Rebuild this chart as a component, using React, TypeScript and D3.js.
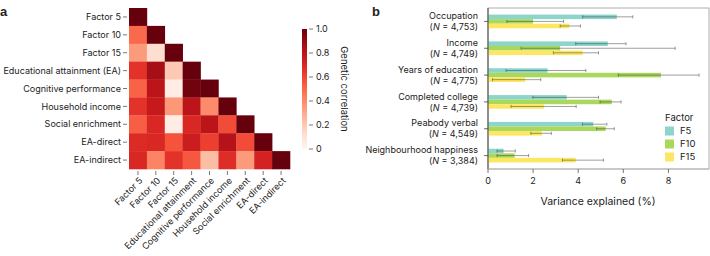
import React from "react";
import * as d3 from "d3";

const traits = [
  "Factor 5",
  "Factor 10",
  "Factor 15",
  "Educational attainment (EA)",
  "Cognitive performance",
  "Household income",
  "Social enrichment",
  "EA-direct",
  "EA-indirect",
];
const xTraits = [
  "Factor 5",
  "Factor 10",
  "Factor 15",
  "Educational attainment",
  "Cognitive performance",
  "Household income",
  "Social enrichment",
  "EA-direct",
  "EA-indirect",
];
// lower triangle rows (including diagonal)
const corrRows: number[][] = [
  [1],
  [0.5, 1],
  [0.35, 0.12, 1],
  [0.66, 0.86, 0.2, 1],
  [0.52, 0.8, 0.05, 0.98, 1],
  [0.66, 0.77, 0.36, 0.8, 0.4, 1],
  [0.53, 0.7, 0.05, 0.7, 0.8, 0.58, 1],
  [0.69, 0.7, 0.56, 0.75, 0.62, 0.82, 0.58, 1],
  [0.7, 0.42, 0.66, 0.55, 0.24, 0.68, 0.35, 0.72, 1],
];
const colorTicks = [0, 0.2, 0.4, 0.6, 0.8, 1.0];

const outcomes = [
  "Occupation",
  "Income",
  "Years of education",
  "Completed college",
  "Peabody verbal",
  "Neighbourhood happiness",
];
const sampleN = ["4,753", "4,749", "4,775", "4,739", "4,549", "3,384"];
const factors = ["F5", "F10", "F15"];
const f5Values = [5.71, 5.31, 2.64, 3.49, 4.67, 0.69];
const f5Lo = [4.2, 3.89, 0.8, 1.99, 4.19, 0.4];
const f5Hi = [6.42, 6.12, 4.34, 4.9, 5.27, 1.21];
const f10Values = [2.0, 3.2, 7.67, 5.49, 5.22, 1.18];
const f10Lo = [0.84, 1.47, 5.78, 4.97, 4.82, 0.4];
const f10Hi = [3.35, 8.3, 9.36, 5.9, 5.6, 1.8];
const f15Values = [3.61, 4.2, 1.65, 2.49, 2.39, 3.89];
const f15Lo = [3.2, 2.9, 0.2, 1.02, 1.9, 3.3];
const f15Hi = [4.1, 4.9, 2.34, 3.91, 2.81, 5.12];
const xTicks = [0, 2, 4, 6, 8];

const factorColors = ["#8cd5cb", "#a9d85c", "#fde762"];
const FONT = "Inter, 'Open Sans', sans-serif";

function Heatmap() {
  const x0 = 129,
    y0 = 8,
    size = 161;
  const band = d3.scaleBand<number>().domain(d3.range(traits.length)).range([0, size]);
  const color = (v: number) => d3.interpolateReds(v);
  const cs = d3.scaleLinear().domain([0, 1]).range([149, 29]);
  const gradStops = d3.range(0, 1.001, 0.05);
  return (
    <g fontFamily={FONT} fill="#222">
      <text x={0} y={16} fontSize={13} fontWeight={700} fontFamily="Arial, sans-serif">a</text>
      <g transform={`translate(${x0},${y0})`}>
        {corrRows.map((row, i) =>
          row.map((v, j) => (
            <rect
              key={`${i}-${j}`}
              x={band(j)!}
              y={band(i)!}
              width={band.bandwidth() + 0.3}
              height={band.bandwidth() + 0.3}
              fill={color(v)}
            />
          ))
        )}
        {traits.map((t, i) => (
          <g key={t} transform={`translate(0,${band(i)! + band.bandwidth() / 2})`}>
            <line x1={-6} x2={-2} stroke="#555" strokeWidth={0.8} />
            <text x={-8} dy="0.35em" textAnchor="end" fontSize={9}>
              {t}
            </text>
          </g>
        ))}
        {xTraits.map((t, j) => (
          <g key={t} transform={`translate(${band(j)! + band.bandwidth() / 2},${size})`}>
            <line y1={2} y2={6} stroke="#555" strokeWidth={0.8} />
            <text
              transform="translate(3,10) rotate(-45)"
              textAnchor="end"
              dy="0.35em"
              fontSize={9}
            >
              {t}
            </text>
          </g>
        ))}
      </g>
      <defs>
        <linearGradient id="cbar" x1="0" y1="1" x2="0" y2="0">
          {gradStops.map((s) => (
            <stop key={s} offset={s} stopColor={color(s)} />
          ))}
        </linearGradient>
      </defs>
      <rect x={302} y={29} width={5} height={120} fill="url(#cbar)" />
      {colorTicks.map((t) => (
        <g key={t} transform={`translate(307,${cs(t)})`}>
          <line x1={2} x2={6} stroke="#555" strokeWidth={0.8} />
          <text x={9} dy="0.35em" fontSize={9}>
            {t === 0 ? "0" : t.toFixed(1)}
          </text>
        </g>
      ))}
      <text transform="translate(341,89) rotate(90)" textAnchor="middle" fontSize={9.5}>
        Genetic correlation
      </text>
    </g>
  );
}

function BarChart() {
  const left = 488,
    right = 709,
    top = 8,
    bottom = 169;
  const x = d3.scaleLinear().domain([0, 9.8]).range([left, right]);
  const y = d3.scaleBand<string>().domain(outcomes).range([top, bottom]).paddingInner(0.49).paddingOuter(0.245);
  const sub = d3.scaleBand<string>().domain(factors).range([0, y.bandwidth()]);
  const vals = [f5Values, f10Values, f15Values];
  const los = [f5Lo, f10Lo, f15Lo];
  const his = [f5Hi, f10Hi, f15Hi];
  return (
    <g fontFamily={FONT} fill="#222">
      <text x={372} y={16} fontSize={13} fontWeight={700} fontFamily="Arial, sans-serif">b</text>
      <rect x={left} y={top} width={right - left} height={bottom - top} fill="none" stroke="#999" strokeWidth={0.8} />
      {outcomes.map((o, i) =>
        factors.map((f, k) => {
          const yy = y(o)! + sub(f)!;
          const h = sub.bandwidth();
          const cy = yy + h / 2;
          return (
            <g key={`${o}-${f}`}>
              <rect x={x(0)} y={yy} width={x(vals[k][i]) - x(0)} height={h} fill={factorColors[k]} />
              <g stroke="#3a3a3a" strokeOpacity={0.55} strokeWidth={0.9}>
                <line x1={x(los[k][i])} x2={x(his[k][i])} y1={cy} y2={cy} />
                <line x1={x(los[k][i])} x2={x(los[k][i])} y1={cy - 1.6} y2={cy + 1.6} />
                <line x1={x(his[k][i])} x2={x(his[k][i])} y1={cy - 1.6} y2={cy + 1.6} />
              </g>
            </g>
          );
        })
      )}
      <line x1={left} x2={left} y1={top} y2={bottom} stroke="#444" strokeWidth={1} />
      <line x1={left} x2={right} y1={bottom} y2={bottom} stroke="#bbb" strokeWidth={1.2} />
      {outcomes.map((o, i) => {
        const cy = y(o)! + y.bandwidth() / 2;
        return (
          <g key={o} transform={`translate(${left},${cy})`}>
            <line x1={-4} x2={0} stroke="#444" strokeWidth={0.8} />
            <text x={-10} y={-5.5} dy="0.35em" textAnchor="end" fontSize={9}>
              {o}
            </text>
            <text x={-10} y={5.5} dy="0.35em" textAnchor="end" fontSize={9}>
              (<tspan fontStyle="italic">N</tspan> = {sampleN[i]})
            </text>
          </g>
        );
      })}
      {xTicks.map((t) => (
        <g key={t} transform={`translate(${x(t)},${bottom})`}>
          <line y1={0} y2={4} stroke="#555" strokeWidth={0.8} />
          <text y={15} textAnchor="middle" fontSize={9}>
            {t}
          </text>
        </g>
      ))}
      <text x={598} y={205} textAnchor="middle" fontSize={10.5}>
        Variance explained (%)
      </text>
      <g transform="translate(665,118)">
        <text x={0} y={0} dy="0.35em" fontSize={9.5}>
          Factor
        </text>
        {factors.map((f, k) => (
          <g key={f} transform={`translate(0,${13 + k * 13})`}>
            <rect x={0} y={-4.5} width={9} height={9} fill={factorColors[k]} />
            <text x={15} dy="0.35em" fontSize={9.5}>
              {f}
            </text>
          </g>
        ))}
      </g>
    </g>
  );
}

export default function App() {
  return (
    <svg width={710} height={256} style={{ display: "block", position: "absolute", left: 0, top: 0 }}>
      <rect width={710} height={256} fill="#fff" />
      <Heatmap />
      <BarChart />
    </svg>
  );
}
